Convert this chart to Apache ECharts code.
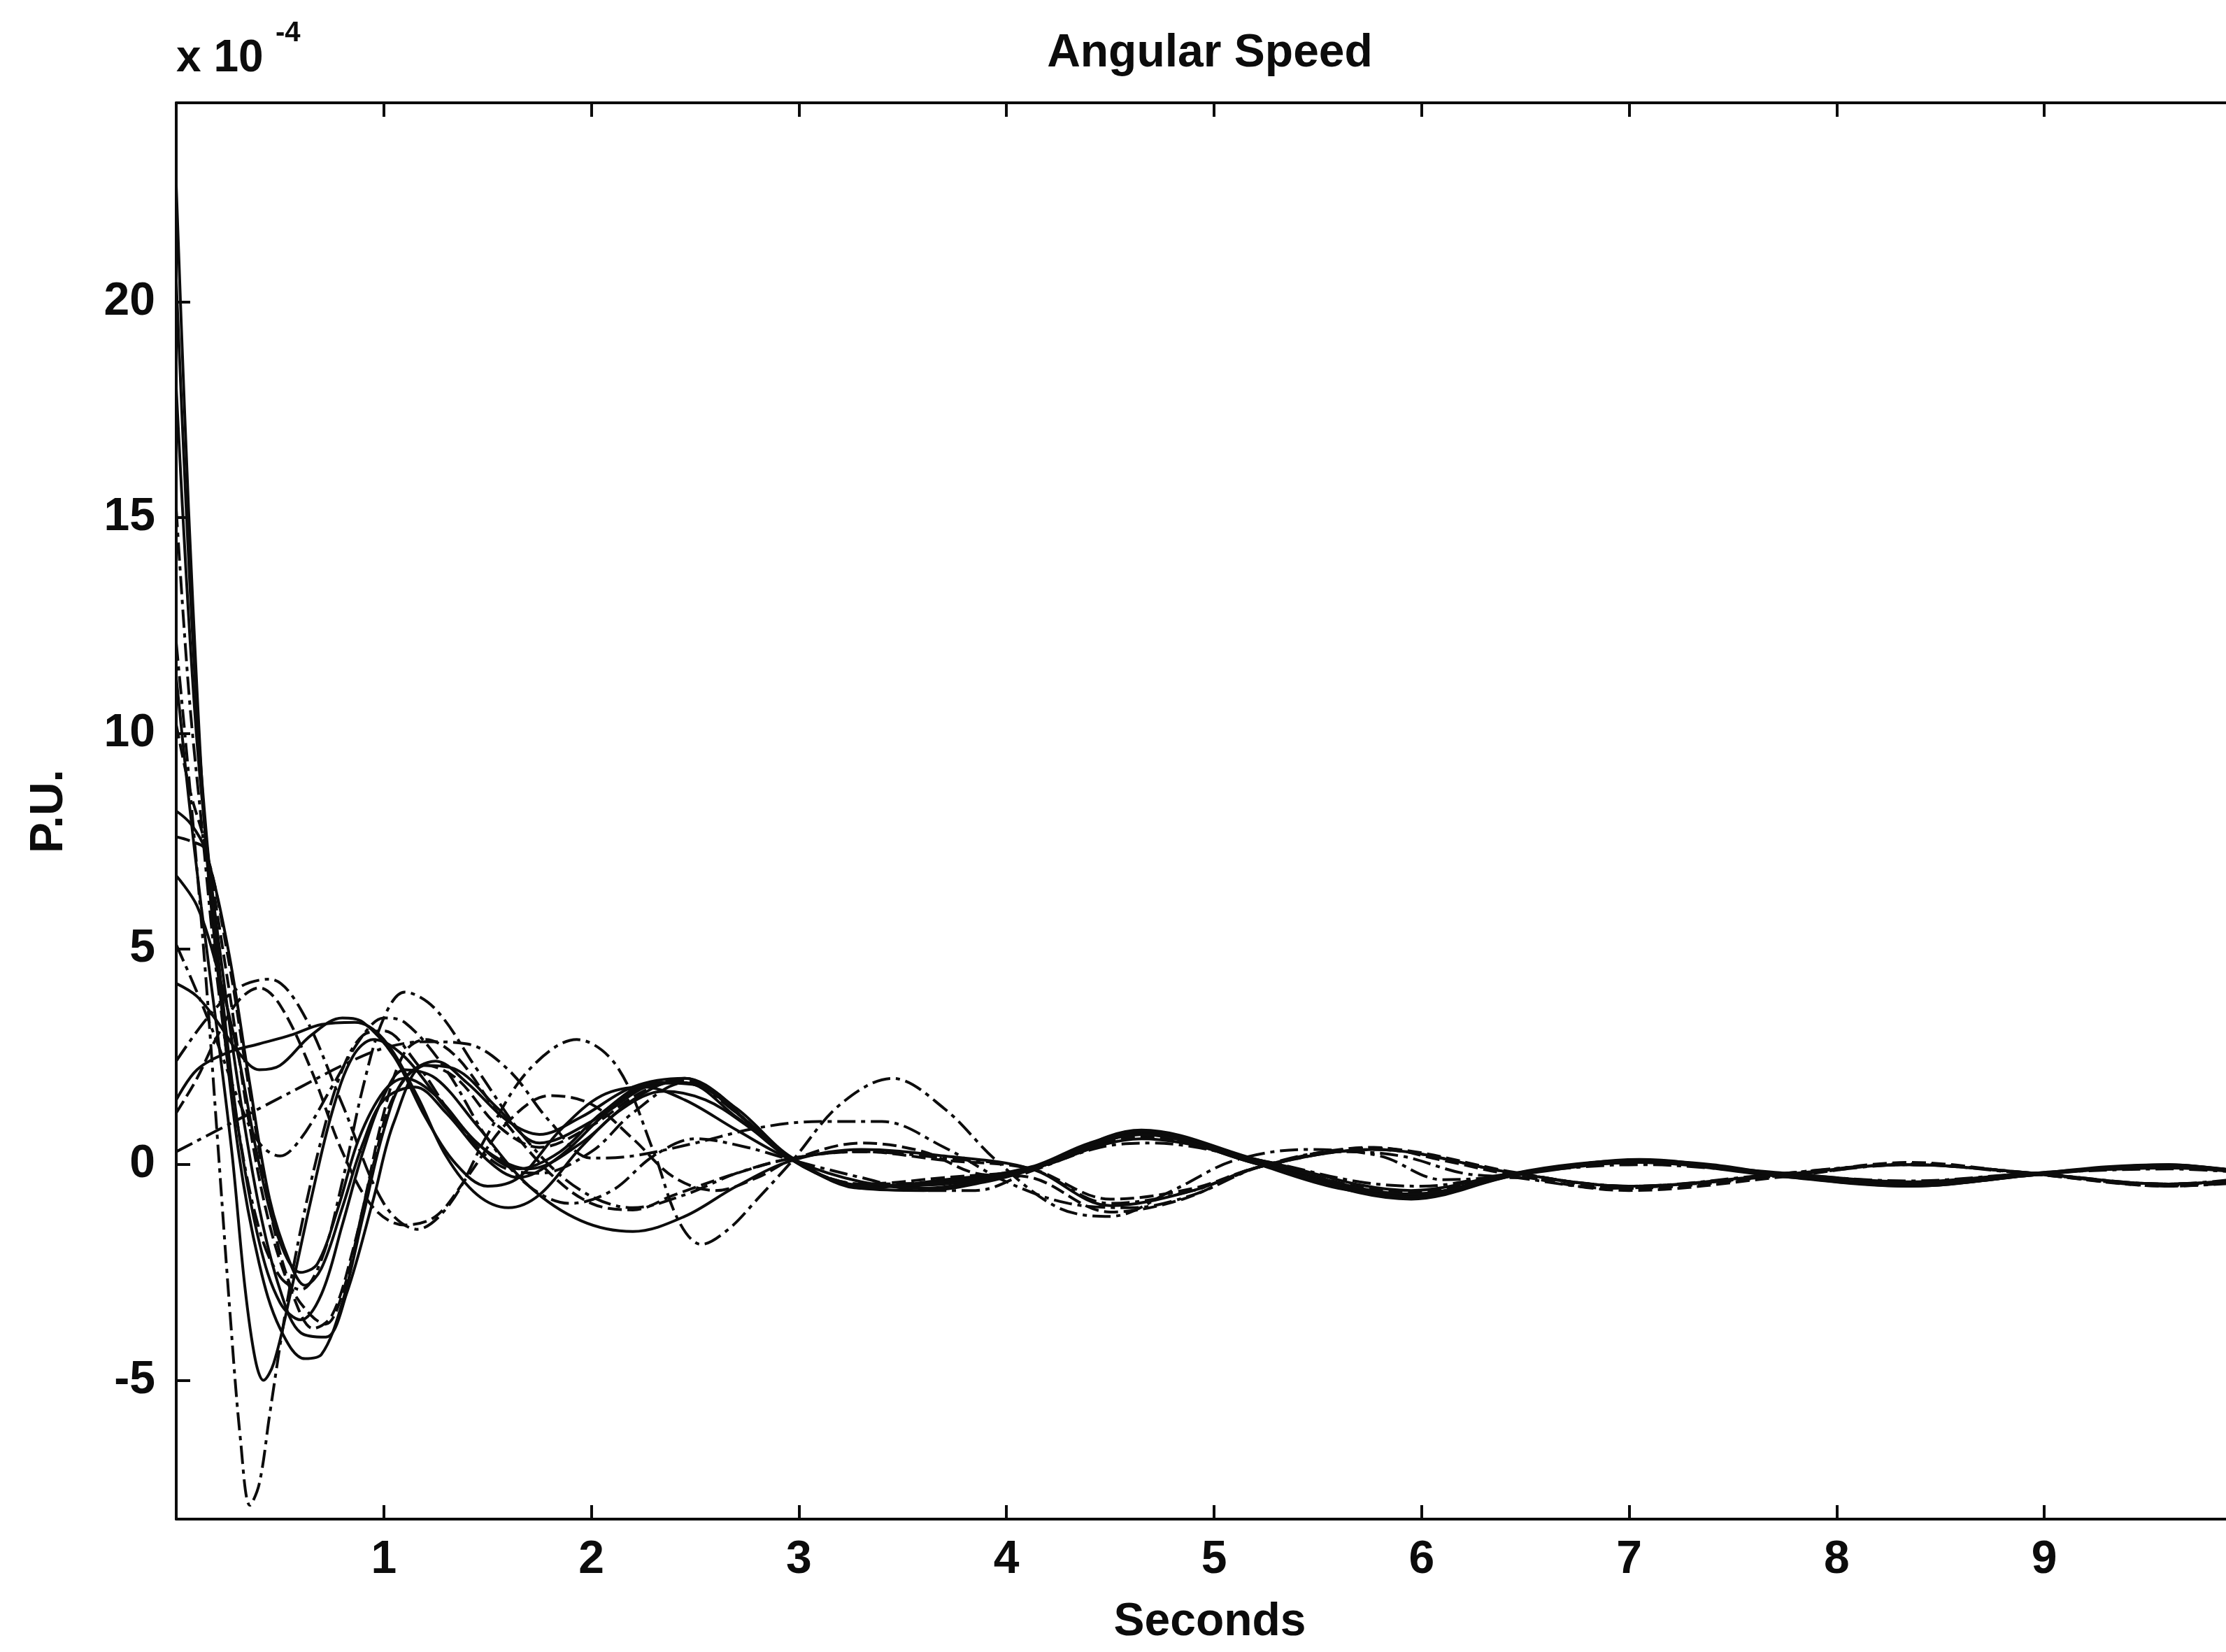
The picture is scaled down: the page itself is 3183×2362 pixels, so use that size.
<!DOCTYPE html>
<html>
<head>
<meta charset="utf-8">
<script src="https://cdn.jsdelivr.net/npm/echarts@6/dist/echarts.min.js"></script>
<style>
html,body{margin:0;padding:0;background:#fff;}
#chart{width:3183px;height:2362px;}
</style>
</head>
<body>
<div id="chart"></div>
<script>
// ---- tick labels ----
const xTicks = [1, 2, 3, 4, 5, 6, 7, 8, 9];
const yTicks = [-5, 0, 5, 10, 15, 20];
const xRange = [0, 10];
const yRange = [-8.22, 24.62];

// ---- curves: [seconds, P.U. x 1e-4] ----
const s1 = [[0,22.7],[0.04,17.5],[0.08,13],[0.14,7.6],[0.2,4.5],[0.3,0.3],[0.4,-2.3],[0.5,-3.8],[0.62,-4.5],[0.7,-4.4],[0.8,-3.2],[0.9,-1.2],[1.0,0.8],[1.1,2.0],[1.25,2.4],[1.4,1.9],[1.6,1.0],[1.75,0.7],[1.95,1.1],[2.2,1.8],[2.45,2.0],[2.7,1.2],[2.97,0.1],[3.2,-0.4],[3.4,-0.5],[3.7,-0.4],[4.12,-0.05],[4.4,0.5],[4.65,0.75],[4.9,0.55],[5.22,0.0],[5.6,-0.55],[5.95,-0.72],[6.2,-0.55],[6.45,-0.2],[6.75,0.02],[7.05,0.1],[7.4,0.0],[7.75,-0.25],[8.05,-0.42],[8.35,-0.47],[8.65,-0.4],[8.95,-0.22],[9.3,-0.05],[9.6,0.0],[9.85,-0.1],[10,-0.18]];
const s2 = [[0,18],[0.05,13.5],[0.1,9.8],[0.15,7.3],[0.22,4.6],[0.3,1.8],[0.4,-1.0],[0.5,-2.9],[0.6,-3.9],[0.72,-4.0],[0.82,-3.0],[0.95,-0.8],[1.05,1.0],[1.2,2.3],[1.35,2.2],[1.55,1.3],[1.75,0.5],[2.0,1.0],[2.25,1.8],[2.45,1.9],[2.7,1.1],[2.97,0.15],[3.3,-0.55],[3.7,-0.35],[4.12,-0.1],[4.65,0.7],[5.22,0.05],[5.95,-0.7],[6.45,-0.22],[7.05,0.08],[7.75,-0.25],[8.35,-0.45],[8.95,-0.2],[9.6,-0.02],[10,-0.2]];
const s3 = [[0,15.2],[0.06,11],[0.12,8],[0.2,4.2],[0.3,0.8],[0.4,-1.5],[0.5,-2.6],[0.6,-2.9],[0.7,-2.2],[0.8,-0.4],[0.9,1.8],[1.0,3.4],[1.1,4.0],[1.25,3.6],[1.45,2.2],[1.7,0.5],[1.95,-0.6],[2.2,-1.0],[2.45,-0.7],[2.7,-0.2],[2.97,0.15],[3.3,0.3],[3.7,0.15],[4.12,-0.1],[4.5,-0.9],[4.9,-0.6],[5.22,-0.05],[5.77,0.35],[6.45,-0.2],[7.0,-0.5],[7.75,-0.25],[8.35,0.0],[8.95,-0.22],[9.6,-0.45],[10,-0.35]];
const s4 = [[0,12.1],[0.07,8.5],[0.14,4.5],[0.2,0.5],[0.26,-3.5],[0.31,-6.4],[0.355,-7.9],[0.4,-7.4],[0.45,-5.8],[0.52,-3.6],[0.6,-1.5],[0.7,0.6],[0.8,2.2],[0.9,3.0],[1.0,3.1],[1.15,2.4],[1.35,1.0],[1.55,0.0],[1.75,-0.2],[2.0,0.3],[2.2,1.2],[2.45,1.9],[2.7,1.2],[2.97,0.1],[3.3,-0.45],[3.7,-0.4],[4.12,-0.1],[4.65,0.7],[5.22,0.05],[5.95,-0.7],[6.45,-0.2],[7.05,0.1],[7.75,-0.25],[8.35,-0.46],[8.95,-0.22],[9.6,-0.03],[10,-0.2]];
const s5 = [[0,11.3],[0.06,8.5],[0.12,6],[0.2,3.0],[0.27,0.2],[0.33,-2.8],[0.38,-4.5],[0.42,-5.0],[0.47,-4.6],[0.55,-3.0],[0.65,-0.8],[0.75,1.2],[0.85,2.5],[0.95,2.9],[1.1,2.5],[1.3,1.3],[1.5,0.3],[1.7,-0.1],[1.95,0.5],[2.2,1.5],[2.45,2.0],[2.7,1.3],[2.97,0.15],[3.3,-0.5],[3.7,-0.4],[4.12,-0.1],[4.65,0.8],[5.22,0.1],[5.95,-0.75],[6.45,-0.25],[7.05,0.12],[7.75,-0.28],[8.35,-0.5],[8.95,-0.24],[9.6,0.0],[10,-0.2]];
const s6 = [[0,10.2],[0.07,8.6],[0.14,7.4],[0.25,4.2],[0.35,1.0],[0.45,-1.4],[0.56,-3.0],[0.66,-3.8],[0.75,-3.5],[0.85,-2.0],[0.95,0.0],[1.05,1.6],[1.2,2.3],[1.35,2.0],[1.55,0.9],[1.75,0.4],[2.0,0.9],[2.25,1.7],[2.45,1.95],[2.7,1.2],[2.97,0.1],[3.3,-0.45],[3.7,-0.3],[4.12,-0.1],[4.65,0.65],[5.22,0.05],[5.95,-0.65],[6.45,-0.2],[7.05,0.06],[7.75,-0.22],[8.35,-0.42],[8.95,-0.2],[9.6,-0.05],[10,-0.2]];
const s7 = [[0,2.4],[0.15,3.4],[0.3,4.1],[0.45,4.3],[0.6,3.6],[0.8,1.4],[1.0,-0.9],[1.16,-1.5],[1.32,-0.9],[1.5,0.7],[1.7,2.2],[1.93,2.9],[2.12,2.3],[2.3,0.3],[2.42,-1.3],[2.53,-1.85],[2.66,-1.5],[2.8,-0.8],[2.97,0.1],[3.2,1.4],[3.45,2.0],[3.7,1.3],[3.95,0.1],[4.25,-1.0],[4.5,-1.2],[4.8,-0.6],[5.1,0.1],[5.45,0.35],[5.8,0.2],[6.1,-0.35],[6.45,-0.3],[7.0,-0.5],[7.75,-0.2],[8.35,0.0],[8.95,-0.2],[9.6,-0.45],[10,-0.3]];
const s8 = [[0,8.2],[0.07,7.9],[0.14,7.3],[0.25,5.0],[0.35,2.0],[0.45,-0.8],[0.55,-2.3],[0.62,-2.8],[0.7,-2.4],[0.8,-1.0],[0.9,0.5],[1.0,1.5],[1.15,1.8],[1.3,1.2],[1.5,0.1],[1.65,-0.3],[1.85,0.2],[2.1,1.3],[2.35,1.9],[2.55,1.8],[2.75,1.0],[2.97,0.1],[3.3,-0.5],[3.7,-0.4],[4.12,-0.1],[4.65,0.72],[5.22,0.0],[5.95,-0.75],[6.45,-0.22],[7.05,0.1],[7.75,-0.25],[8.35,-0.48],[8.95,-0.22],[9.6,-0.01],[10,-0.18]];
const s9 = [[0,7.6],[0.07,7.5],[0.14,7.3],[0.25,4.8],[0.35,1.8],[0.45,-1.0],[0.55,-2.8],[0.65,-3.5],[0.72,-3.7],[0.8,-3.0],[0.9,-1.0],[1.0,1.2],[1.1,2.6],[1.2,2.9],[1.35,2.5],[1.55,1.2],[1.8,-0.2],[2.0,-0.9],[2.2,-1.05],[2.4,-0.7],[2.7,-0.2],[2.97,0.15],[3.3,0.3],[3.7,0.1],[4.12,-0.1],[4.5,-0.8],[4.9,-0.55],[5.22,-0.05],[5.77,0.38],[6.45,-0.18],[7.0,-0.55],[7.75,-0.25],[8.35,0.05],[8.95,-0.22],[9.6,-0.48],[10,-0.35]];
const s10 = [[0,6.7],[0.1,6.0],[0.2,4.5],[0.3,2.5],[0.4,0.0],[0.5,-1.8],[0.6,-2.5],[0.68,-2.3],[0.78,-1.0],[0.88,0.6],[1.0,1.7],[1.1,2.0],[1.25,1.6],[1.45,0.5],[1.65,-0.1],[1.85,0.3],[2.05,1.2],[2.3,1.9],[2.5,1.85],[2.75,1.0],[2.97,0.12],[3.3,-0.5],[3.7,-0.45],[4.12,-0.08],[4.65,0.78],[5.22,0.08],[5.95,-0.68],[6.45,-0.25],[7.05,0.05],[7.75,-0.28],[8.35,-0.45],[8.95,-0.24],[9.6,-0.02],[10,-0.22]];
const s11 = [[0,5.1],[0.1,4.0],[0.2,2.8],[0.3,1.5],[0.4,0.5],[0.5,0.2],[0.6,0.6],[0.75,1.8],[0.9,3.0],[1.0,3.4],[1.1,3.3],[1.3,2.2],[1.5,0.6],[1.7,-0.5],[1.9,-0.9],[2.1,-0.6],[2.3,0.2],[2.5,0.6],[2.75,0.4],[2.97,0.1],[3.3,-0.3],[3.6,-0.6],[3.85,-0.6],[4.12,-0.15],[4.45,0.4],[4.7,0.5],[5.22,0.1],[5.7,-0.4],[6.0,-0.5],[6.45,-0.2],[7.05,0.0],[7.75,-0.22],[8.35,-0.38],[8.95,-0.2],[9.6,-0.1],[10,-0.2]];
const s12 = [[0,4.2],[0.1,3.9],[0.2,3.3],[0.3,2.6],[0.4,2.2],[0.5,2.3],[0.65,3.0],[0.8,3.4],[0.9,3.3],[1.05,2.5],[1.2,1.1],[1.35,0.0],[1.5,-0.5],[1.65,-0.3],[1.85,0.8],[2.05,1.6],[2.25,1.8],[2.45,1.5],[2.7,0.8],[2.97,0.1],[3.3,-0.4],[3.6,-0.55],[3.9,-0.35],[4.12,-0.1],[4.65,0.6],[5.22,0.1],[5.95,-0.6],[6.45,-0.2],[7.05,0.05],[7.75,-0.2],[8.35,-0.4],[8.95,-0.2],[9.6,-0.08],[10,-0.2]];
const s13 = [[0,0.3],[0.2,0.8],[0.4,1.3],[0.6,1.8],[0.8,2.3],[1.0,2.7],[1.2,2.85],[1.4,2.8],[1.6,2.2],[1.8,1.0],[2.0,0.15],[2.2,0.2],[2.5,0.5],[2.8,0.85],[3.1,1.0],[3.4,1.0],[3.7,0.4],[4.0,-0.4],[4.3,-0.9],[4.6,-1.0],[4.9,-0.7],[5.22,-0.05],[5.6,0.3],[5.9,0.2],[6.2,-0.2],[6.45,-0.3],[6.9,-0.55],[7.3,-0.45],[7.75,-0.2],[8.35,0.0],[8.95,-0.2],[9.6,-0.5],[10,-0.4]];
const s14 = [[0,1.5],[0.1,2.2],[0.25,2.6],[0.4,2.8],[0.55,3.0],[0.7,3.25],[0.86,3.3],[1.0,2.9],[1.16,1.6],[1.3,0.2],[1.45,-0.7],[1.6,-1.0],[1.75,-0.7],[1.95,0.4],[2.15,1.3],[2.35,1.7],[2.55,1.5],[2.75,0.9],[2.97,0.1],[3.3,-0.55],[3.6,-0.6],[3.9,-0.4],[4.12,-0.12],[4.65,0.7],[5.22,0.0],[5.95,-0.8],[6.45,-0.25],[7.05,0.1],[7.75,-0.25],[8.35,-0.5],[8.95,-0.24],[9.6,-0.02],[10,-0.2]];
const s15 = [[0,1.2],[0.1,2.0],[0.2,3.0],[0.3,3.8],[0.4,4.1],[0.5,3.7],[0.65,2.2],[0.8,0.3],[0.95,-1.0],[1.1,-1.4],[1.25,-1.2],[1.4,-0.3],[1.6,1.0],[1.8,1.6],[2.0,1.4],[2.2,0.6],[2.4,-0.3],[2.6,-0.6],[2.8,-0.3],[2.97,0.12],[3.3,0.5],[3.6,0.3],[3.85,-0.2],[4.12,-0.3],[4.5,-1.1],[4.85,-0.8],[5.22,-0.05],[5.77,0.4],[6.1,0.1],[6.45,-0.25],[7.0,-0.6],[7.75,-0.28],[8.35,0.02],[8.95,-0.22],[9.6,-0.5],[10,-0.38]];
const s16 = [[0,20.5],[0.05,15],[0.1,10.5],[0.15,7.4],[0.22,4.0],[0.3,0.8],[0.4,-1.8],[0.5,-3.2],[0.6,-3.6],[0.7,-3.0],[0.8,-1.4],[0.9,0.3],[1.0,1.6],[1.1,2.2],[1.25,2.0],[1.45,0.9],[1.7,-0.5],[1.95,-1.3],[2.2,-1.55],[2.45,-1.2],[2.7,-0.5],[2.97,0.1],[3.3,0.35],[3.7,0.2],[4.12,-0.1],[4.5,-0.95],[4.9,-0.6],[5.22,-0.05],[5.77,0.35],[6.45,-0.2],[7.0,-0.5],[7.75,-0.22],[8.35,0.0],[8.95,-0.2],[9.6,-0.45],[10,-0.33]];

const curves = [s1, s2, s3, s4, s5, s6, s7, s8, s9, s10, s11, s12, s13, s14, s15, s16];
const styles = ['solid','solid','dashdot','dashdot','solid','dashed','dashdot','solid','dashed','solid','dashdot','solid','dashdot','solid','dashed','solid'];

const dashMap = {solid: 'solid', dashed: [20, 8], dashdot: [26, 8, 6, 8]};
const INK = '#0c0c0c';
const FONT = '"Liberation Sans", Arial, Helvetica, sans-serif';

const chart = echarts.init(document.getElementById('chart'), null, {renderer: 'canvas'});

const series = curves.map((d, i) => ({
  type: 'line',
  data: d,
  xAxisIndex: 0,
  yAxisIndex: 0,
  showSymbol: false,
  smooth: 0.35,
  lineStyle: {color: INK, width: 4, type: dashMap[styles[i]]},
  z: 3,
  animation: false
}));

const axisLine = {show: true, onZero: false, lineStyle: {color: INK, width: 4}};

chart.setOption({
  backgroundColor: '#ffffff',
  animation: false,
  grid: {left: 252, top: 147, width: 2968, height: 2025, containLabel: false, outerBoundsMode: 'none', show: false},
  xAxis: [
    {
      type: 'value', position: 'bottom', min: xRange[0], max: xRange[1],
      axisLine: axisLine,
      axisTick: {show: true, inside: true, length: 20, lineStyle: {color: INK, width: 4}, customValues: xTicks},
      axisLabel: {show: true, customValues: xTicks, color: INK, fontFamily: FONT, fontWeight: 'bold', fontSize: 66, margin: 26},
      splitLine: {show: false}
    },
    {
      type: 'value', position: 'top', min: xRange[0], max: xRange[1],
      axisLine: axisLine,
      axisTick: {show: true, inside: true, length: 20, lineStyle: {color: INK, width: 4}, customValues: xTicks},
      axisLabel: {show: false},
      splitLine: {show: false}
    }
  ],
  yAxis: [
    {
      type: 'value', position: 'left', min: yRange[0], max: yRange[1],
      axisLine: axisLine,
      axisTick: {show: true, inside: true, length: 20, lineStyle: {color: INK, width: 4}, customValues: yTicks},
      axisLabel: {show: true, customValues: yTicks, color: INK, fontFamily: FONT, fontWeight: 'bold', fontSize: 66, margin: 30},
      splitLine: {show: false}
    },
    {
      type: 'value', position: 'right', min: yRange[0], max: yRange[1],
      axisLine: axisLine,
      axisTick: {show: true, inside: true, length: 20, lineStyle: {color: INK, width: 4}, customValues: yTicks},
      axisLabel: {show: false},
      splitLine: {show: false}
    }
  ],
  series: series,
  graphic: [
    {type: 'text', x: 1730, y: 77, style: {text: 'Angular Speed', fill: INK, font: 'bold 66px ' + FONT, align: 'center', verticalAlign: 'middle'}},
    {type: 'text', x: 1730, y: 2320, style: {text: 'Seconds', fill: INK, font: 'bold 66px ' + FONT, align: 'center', verticalAlign: 'middle'}},
    {type: 'text', x: 71, y: 1160, rotation: Math.PI / 2, style: {text: 'P.U.', fill: INK, font: 'bold 66px ' + FONT, align: 'center', verticalAlign: 'middle'}},
    {type: 'text', x: 252, y: 84, style: {text: 'x 10', fill: INK, font: 'bold 64px ' + FONT, align: 'left', verticalAlign: 'middle'}},
    {type: 'text', x: 394, y: 48, style: {text: '-4', fill: INK, font: 'bold 40px ' + FONT, align: 'left', verticalAlign: 'middle'}}
  ]
});
</script>
</body>
</html>
